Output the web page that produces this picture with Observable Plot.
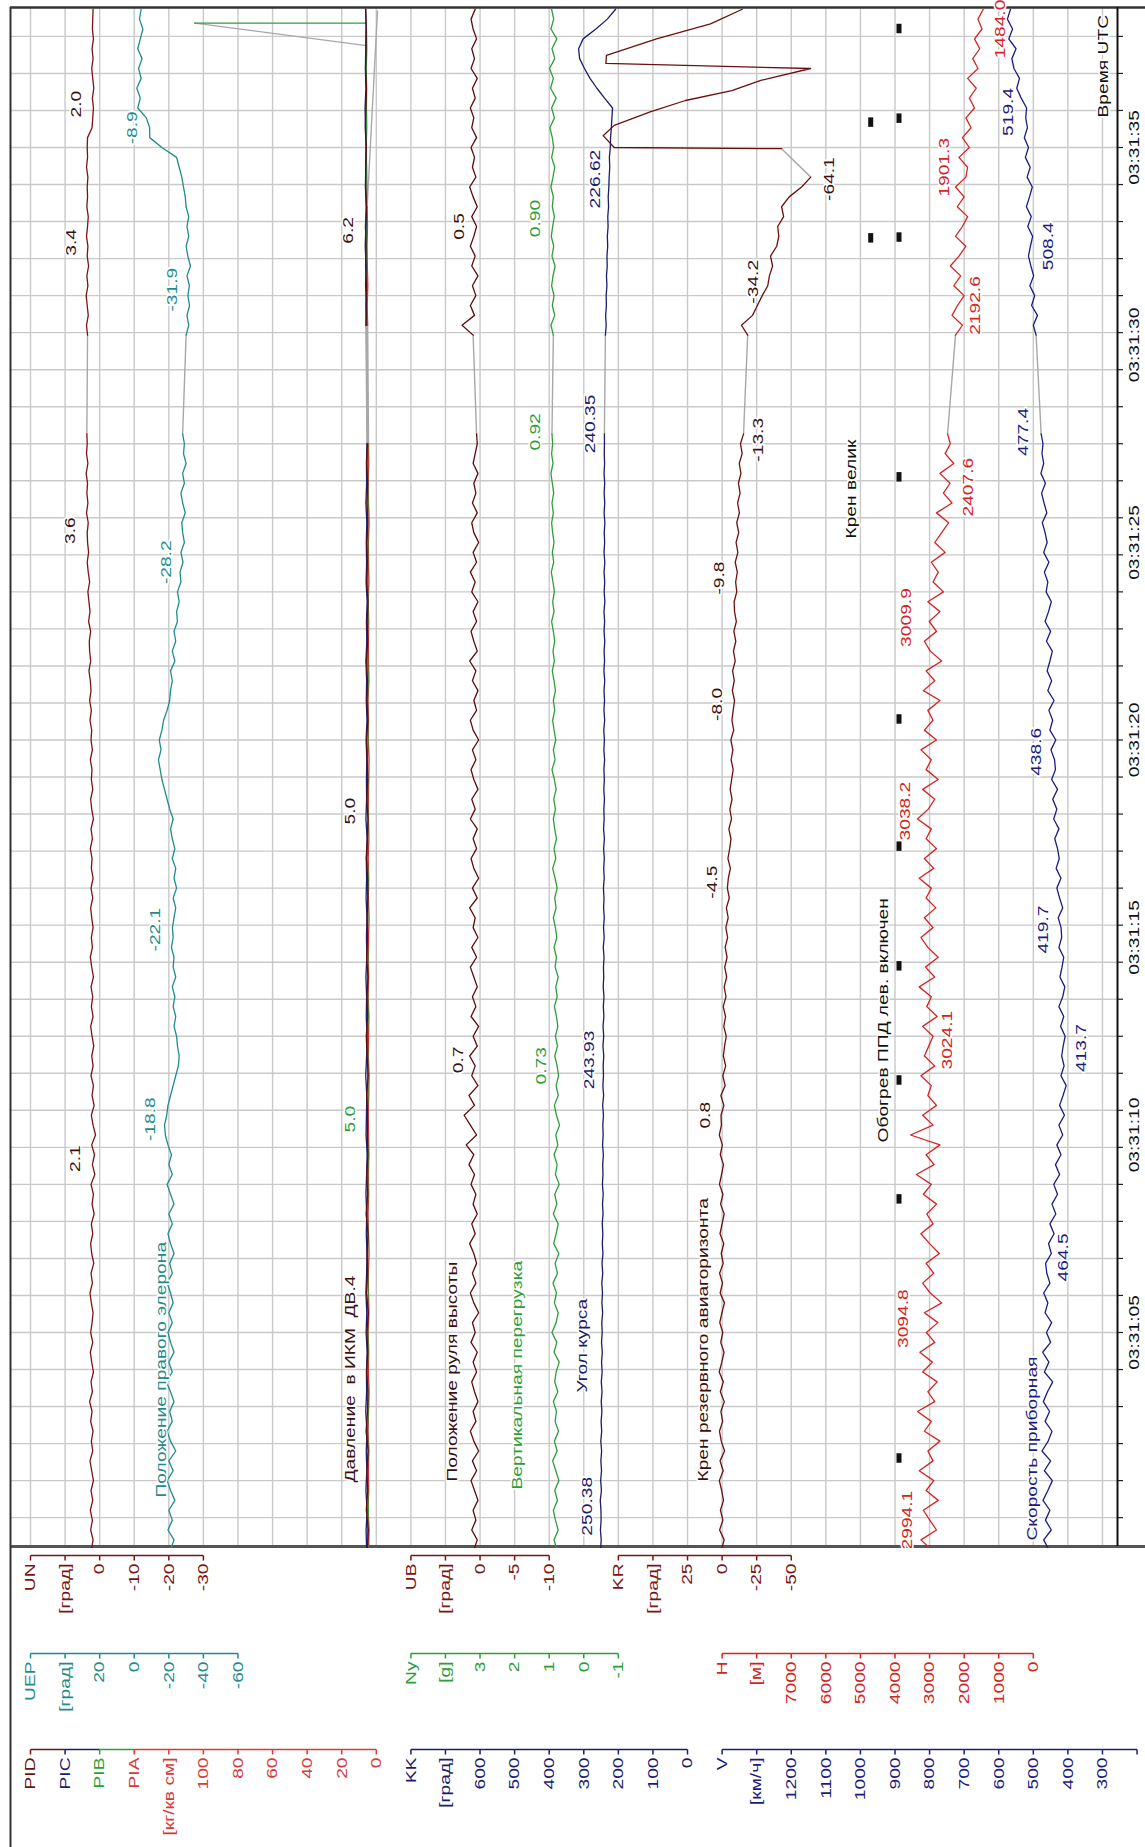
<!DOCTYPE html>
<html><head><meta charset="utf-8">
<script src="https://cdn.jsdelivr.net/npm/d3@7"></script>
<script src="https://cdn.jsdelivr.net/npm/@observablehq/plot@0.6"></script>
<style>body{margin:0;background:#fff;} #chart svg{display:block;}</style>
</head><body><div id="chart"></div>
<script>
// ================= DATA =================
const timeTickSec = [5, 10, 15, 20, 25, 30, 35];
const timeTickText = ["03:31:05","03:31:10","03:31:15","03:31:20","03:31:25","03:31:30","03:31:35"];
const fineStep = 0.25, coarseStep = 0.5;
const segAStart = -0.5, segBStart = 30.25, piAStart = -0.5, piBStart = 30.5;

// UN [град]
const unA = [2.4,1.9,2.6,2.1, 2.7,2.0,2.5,1.8, 2.3,2.8,2.0,2.4, 1.9,2.6,2.2,2.9, 2.1,2.5,1.8,2.3, 2.7,2.0,2.6,2.2,
 1.9,2.4,2.8,2.1, 2.5,1.7,2.3,2.6, 2.0,2.4,1.6,2.2, 1.8,2.5,1.4,2.1, 1.5,2.3,1.2,1.9, 2.4,1.6,2.2,1.8,
 2.5,1.9,2.3,1.7, 2.2,2.6,1.9,2.4, 2.0,2.5,1.8,2.3, 2.7,2.1,2.4,1.9, 2.3,2.6,2.0,2.5, 1.9,2.4,2.2,2.7,
 2.1,2.5,1.8,2.3, 2.6,2.0,2.4,2.2, 2.7,2.1,2.5,2.3, 2.8,2.4,2.9,2.5, 2.7,3.1,2.6,2.9, 3.0,2.6,3.2,2.8,
 3.1,3.4,2.9,3.3, 3.6,3.2,3.5,3.6, 3.3,3.8,3.4,3.7, 3.5,3.9,3.4,3.8, 3.6,3.7];
const unB = [3.5,3.8,3.3,3.6, 3.9,3.4,3.7,3.2, 3.6,3.4,3.8,3.5, 3.3,3.7,3.5,3.6, 3.4,3.8,3.5,3.6,
 3.5,2.2,2.0,1.8, 2.1,1.7,2.0,2.3, 1.9,2.2,1.8,2.1, 2.0,1.9];

// UEP [град]
const uepA = [-21,-23,-19.5,-22, -20,-23.5,-21,-19, -22.5,-20,-24,-21, -19,-22,-20.5,-23, -21,-18.5,-22,-20,
 -23,-21,-19.5,-22, -20,-22.5,-21,-19, -22,-20.5,-23,-21, -19.5,-22,-20,-23, -21,-19,-22,-20,
 -21.5,-19.5,-18,-17.5, -18.8,-19.5,-21,-22.5, -24,-25.5,-26,-25, -24.5,-23,-24,-22.5, -23.5,-22,-24,-22.5,
 -23,-21.5,-22.5,-22.1, -23,-24,-22.5,-24.5, -23,-24,-22,-23.5, -22,-21,-22.5,-20.5, -19,-17.5,-16,-15,
 -14,-15.5,-14.5,-16, -17,-19,-20.5,-21, -22,-21,-23.5,-22, -24,-23,-25,-24.5, -26,-25,-27,-26.5,
 -28.2,-27,-29,-28, -27.5,-29.5,-28,-27, -29,-28,-30,-28.5, -29,-28];
const uepB = [-30,-31.5,-30.5,-32, -31,-31.9,-30.5,-32.5, -31,-30,-31.5,-30.5, -31.5,-30,-29.5,-28.5,
 -27.5,-26,-24.5,-16, -9,-8.9,-7,-2, -3.5,-1.5,-4,-2.5, -4.5,-2,-3.5,-5, -3,-4];

// PID / PIC / PIB / PIA [кг/кв см]
const pidA = [5.2,4.6,5.8,5.0,5.5,4.7,5.9,5.1,4.8,5.6,5.0,5.4,4.6,5.7,5.1,5.3,4.8,5.9,5.0,5.5,4.9,5.2,5.0,5.6,4.7,5.3,5.8,5.0,
 5.4,4.8,5.6,5.1,5.3,4.9,5.0,5.7,5.2,4.8,5.5,5.0,5.3,5.6,4.9,5.4,5.1,5.7,5.0,5.3,4.8,5.6,5.2,5.5,4.9,5.4,5.0,5.6,5.2];
const pidB = [5.8,6.0,5.6,6.2,5.9,6.3,5.7,6.1,6.2,5.8,6.4,6.0,5.7,6.2,6.0,5.9,6.1];
const picA = [5.6,5.9,5.3,6.0,5.5,5.8,5.4,6.1,5.6,5.7,5.3,5.9,5.5,6.0,5.6,5.4,5.8,5.5,6.0,5.6,5.3,5.9,5.7,5.5,6.1,5.6,5.4,5.8,
 5.6,6.0,5.5,5.7,5.4,5.9,5.6,5.8,5.3,6.0,5.6,5.7,5.5,5.9,5.4,5.8,5.6,6.0,5.5,5.7,5.3,5.9,5.6,5.8,5.5,6.0,5.6,5.7,5.4];
const picB = [6.0,5.7,6.2,5.9,6.4,6.0,5.8,6.3,6.1,5.9,6.2,6.5,6.0,6.3,6.1,5.8,6.2];
const pibA = [4.9,5.2,4.6,5.0,5.3,4.8,5.1,4.7,5.0,5.2,4.8,4.9,5.3,4.7,5.0,5.1,4.8,5.2,4.9,5.0,4.7,5.1,5.3,4.8,5.0,4.9,5.2,4.7,
 5.0,5.1,4.8,5.3,4.9,5.0,4.7,5.2,5.0,4.8,5.1,4.9,5.2,4.8,5.0,5.1,4.7,5.0,5.2,4.9,4.8,5.1,5.0,4.9,5.2,4.8,5.0,5.1,4.9];
const pibB = [5.4,5.7,5.3,5.6,5.8,5.5,5.7,5.4,5.6,5.9,5.5,5.7,5.6,5.8,5.5,5.7];
const pibSpikeT = [38.15, 38.15], pibSpikeV = [5.6, 105];
const pibGlitchT = [38.15, 37.58], pibGlitchV = [105, 5.7];
const piaA = [4.5,4.2,4.7,4.4,4.6,4.3,4.8,4.5,4.2,4.6,4.4,4.7,4.3,4.5,4.6,4.2,4.5,4.8,4.4,4.6,4.3,4.5,4.7,4.4,4.2,4.6,4.5,4.3,
 4.7,4.4,4.6,4.5,4.2,4.6,4.4,4.7,4.3,4.5,4.6,4.4,4.2,4.6,4.5,4.8,4.3,4.5,4.6,4.4,4.7,4.3,4.5,4.6,4.2,4.5,4.7,4.4,4.5];
const piaB = [5.0,5.3,4.9,5.2,5.4,5.1,5.3];
const piaTailT = [33.5, 38.45], piaTailV = [5.3, -0.7];

// UB [град]
const ubA = [0.9,0.4,1.2,0.6, 1.0,0.3,0.8,1.3, 0.5,1.1,0.2,0.9, 1.4,0.6,1.0,0.3, 0.8,1.2,0.5,1.0, 0.4,1.3,0.7,1.1,
 0.2,0.9,1.4,0.6, 1.1,0.5,0.9,1.5, 0.7,1.2,0.4,1.0, 0.6,1.3,0.8,1.6, 0.9,2.0,0.5,1.4, 2.3,0.8,1.6,0.3,
 1.2,0.7,1.5,0.4, 1.0,0.2,1.3,0.6, 1.1,0.4,0.9,1.4, 0.5,1.2,0.3,1.0, 0.7,1.5,0.4,1.1, 0.2,0.9,1.3,0.5,
 1.0,0.4,1.4,0.7, 1.2,0.3,0.9,1.3, 0.6,1.1,0.2,1.0, 1.4,0.5,0.9,0.3, 1.1,0.6,1.5,0.4, 0.9,1.3,0.5,1.0,
 0.3,1.2,0.7,1.4, 0.5,1.0,0.2,0.9, 1.2,0.4,1.1,0.6, 0.9,0.3,1.0,0.7, 0.4,0.5];
const ubB = [1.0,2.6,0.8,1.4, 0.6,1.1,0.3,1.2, 0.7,1.4,0.9,0.5, 1.2,0.4,1.0,1.5, 0.6,1.1,0.8,1.3,
 0.5,1.2,0.9,1.4, 0.7,1.1,0.4,1.3, 0.8,1.2,0.5,1.0, 1.3,0.7];

// Ny [g]
const nyA = [0.78,0.86,0.74,0.82, 0.88,0.76,0.84,0.72, 0.81,0.90,0.77,0.85, 0.73,0.83,0.79,0.88, 0.75,0.84,0.80,0.71,
 0.86,0.78,0.92,0.80, 0.74,0.85,0.79,0.89, 0.76,0.83,0.72,0.87, 0.80,0.74,0.88,0.78, 0.84,0.71,0.82,0.77,
 0.86,0.75,0.81,0.70, 0.79,0.85,0.74,0.80, 0.73,0.77,0.84,0.76, 0.82,0.75,0.79,0.85, 0.77,0.81,0.74,0.83,
 0.79,0.86,0.78,0.82, 0.88,0.80,0.84,0.77, 0.83,0.90,0.81,0.86, 0.79,0.84,0.88,0.82, 0.87,0.80,0.85,0.92,
 0.83,0.88,0.81,0.86, 0.90,0.84,0.88,0.82, 0.86,0.91,0.85,0.89, 0.84,0.88,0.93,0.86, 0.90,0.85,0.89,0.94,
 0.87,0.91,0.86,0.90, 0.93,0.88,0.92,0.87, 0.91,0.95,0.89,0.93, 0.90,0.92];
const nyB = [0.88,0.95,0.84,0.91, 0.86,0.93,0.89,0.83, 0.92,0.87,0.94,0.90, 0.85,0.91,0.88,0.95, 0.89,0.84,0.93,0.87,
 0.91,0.98,0.85,0.93, 0.80,0.96,0.88,0.99, 0.84,0.92,0.78,0.95, 0.87,0.93];

// KK [град]
const kkA = [251.5,249.6,251.8,249.9, 250.4,252.3,249.0,251.2, 248.7,250.6,248.4,250.8, 248.2,249.9,247.6,249.5,
 247.2,249.3,246.9,248.6, 246.4,248.7,246.8,247.9, 245.5,247.6,245.9,247.8, 245.2,247.3,244.6,246.4,
 244.9,246.6,244.3,245.8, 243.8,246.1,244.5,245.2, 243.3,245.7,243.9,245.0, 243.1,245.4,242.6,244.8,
 243.0,243.93,242.2,244.6, 242.4,244.3,241.9,243.5, 241.6,243.8,242.3,243.1, 241.4,243.6,241.0,242.9,
 240.8,242.7,241.5,243.2, 240.9,242.4,240.6,242.6, 240.4,242.8,241.1,242.0, 240.2,242.1,240.5,241.8,
 239.8,241.9,240.3,242.2, 239.6,241.7,240.0,241.5, 239.4,241.8,239.9,241.2, 239.3,241.4,239.7,241.6,
 239.1,241.0,239.5,241.3, 239.2,241.5,239.6,240.9, 239.0,241.2,239.4,241.1, 239.5,241.3,239.8,240.8, 240.2,240.35];
const kkB = [237.5,235.2,236.8,234.6, 235.3,233.1,234.4,232.2, 233.0,230.8,231.9,229.7, 230.6,228.3,229.4,227.5,
 226.62,224.9,226.0,223.4, 222.5,220.3,218.6,216.8, 240.0,262.0,282.0,298.0, 312.0,315.0,302.0,265.0, 232.0,208.0];

// KR [град]
const krA = [0.5,-1.5,1.8,-0.6, 1.2,-1.0,0.3,2.0, -0.8,1.5,-1.8,0.6, 1.9,-0.4,0.9,-1.6, 1.3,-0.9,2.1,0.2,
 -1.4,1.0,-0.5,1.7, 0.1,-1.7,1.4,-0.3, 1.8,-0.8,0.6,-1.2, 1.5,0.0,-1.5,1.1, -0.6,1.9,0.4,-1.0,
 1.3,-0.2,2.0,0.5, 0.8,-1.3,0.9,-2.2, -0.5,-2.6,-0.9,-1.8, -3.0,-1.2,-2.5,-0.8, -2.8,-1.5,-3.3,-1.9,
 -3.6,-2.2,-4.0,-2.7, -4.4,-3.1,-5.2,-3.8, -4.5,-6.0,-4.2,-5.5, -6.4,-4.9,-6.8,-5.6, -7.2,-5.8,-6.9,-8.0,
 -6.5,-7.8,-6.3,-8.4, -7.1,-8.0,-9.0,-7.4, -8.8,-7.6,-9.5,-8.2, -9.9,-8.5,-10.3,-9.0, -8.7,-10.6,-9.8,-11.0,
 -9.5,-11.4,-10.1,-12.0, -10.6,-12.5,-11.2,-13.0, -11.8,-13.6,-12.4,-14.5, -13.3,-15.5];
const krB = [-18.5,-14.0,-22.0,-25.5,-29.0,-33.0,-34.2,-36.5,-35.0,-39.5,-41.0,-40.2,-44.5,-43.0,-48.5,-57.5,-64.1];
const krTopT = [34.97,35.0,35.3,35.56,35.9,36.19,36.44,36.7,37.0,37.13,37.33,37.75,38.13,38.5];
const krTopV = [-43,78,86,78,52,26.5,-7,-28,-64,84,83.6,47.4,8.4,-14.6];

// H [м]
const hA = [2950,3250,2800,2994, 3180,2750,3100,2880, 3300,2900,3050,2700, 3150,2950,3350,2850, 3050,2780,3200,2920,
 3280,2850,3094,2760, 3150,2650,2980,3200, 2880,3100,2720,3000, 3250,2900,3080,2800, 3180,2950,3380,2870,
 3100,2700,3550,2900, 3200,2800,3050,2950, 3250,2850,3150,3024, 2900,3200,2780,3080, 2950,3300,2850,3120,
 2750,3050,3250,2900, 3150,2820,3100,2950, 3300,2880,3150,2800, 3100,2950,3350,3038, 2850,3200,2750,3100,
 2950,3250,2800,3150, 2900,3050,2700,3180, 2850,3100,2650,2980, 3150,2800,3010,2700, 3050,2600,2900,2750,
 2950,2550,2850,2650, 2450,2800,2350,2600, 2408,2700,2300,2550, 2400,2480];
const hB = [2250,2050,2350,2193, 2000,2300,2100,2400, 2150,1950,2250,2050, 1900,2200,2000,2250, 1950,1901,2150,1850,
 2050,1800,1950,1700, 1850,1650,1900,1600, 1750,1550,1700,1484, 1600,1450];

// V [км/ч]
const vA = [455,470,448,465, 452,472,458,445, 468,450,475,457, 446,466,453,471, 459,444,468,455, 473,450,462,447,
 466,458,470,452, 461,464.5,448,456, 440,452,435,446, 430,441,424,436, 420,432,415,426, 410,424,414,405,
 420,411,418,413.7, 408,421,412,426, 415,409,423,417, 412,426,418,419.7, 428,415,424,432, 420,434,425,430,
 438,426,441,432, 444,430,447,436, 438.6,449,435,452, 444,455,440,458, 447,460,452,445, 462,450,466,456,
 448,463,458,468, 455,470,460,466, 474,461,469,476, 465,478,470,475, 472,477.4];
const vB = [492,500,488,505, 496,510,499,507, 514,508.4,502,516, 506,520,511,503, 518,509,523,514,
 526,517,522,519.4, 535,548,540,556, 562,550,571,560, 575,566];

// discrete events (black markers), seconds after 03:31:00
const eventsCol1 = [35.63, 32.7];
const eventsCol2 = [38.0, 35.73, 32.72, 26.65, 20.52, 17.3, 14.27, 11.38, 8.37, 1.81];

// value annotations [sec, text, side]
const unNotes  = [[9.4,"2.1","L"],[25.3,"3.6","L"],[32.6,"3.4","L"],[36.1,"2.0","L"]];
const uepNotes = [[10.4,"-18.8","L"],[15.2,"-22.1","L"],[24.5,"-28.2","L"],[31.4,"-31.9","L"],[35.5,"-8.9","L"]];
const pibNotes = [[10.4,"5.0","L"]];
const pidNotes = [[18.2,"5.0","L"],[32.9,"6.2","L"]];
const ubNotes  = [[11.9,"0.7","L"],[33.0,"0.5","L"]];
const nyNotes  = [[11.75,"0.73","L"],[27.8,"0.92","L"],[33.2,"0.90","L"]];
const kkNotes  = [[0.6,"250.38","L"],[11.9,"243.93","L"],[28.0,"240.35","L"],[34.2,"226.62","L"]];
const krNotes  = [[10.5,"0.8","L"],[16.4,"-4.5","L"],[20.9,"-8.0","L"],[24.1,"-9.8","L"],[27.6,"-13.3","R"],[31.6,"-34.2","L"],[34.2,"-64.1","R"]];
const hNotes   = [[0.25,"2994.1","L"],[5.35,"3094.8","L"],[12.4,"3024.1","R"],[18.2,"3038.2","L"],[23.1,"3009.9","L"],[26.4,"2407.6","R"],[31.0,"2192.6","R"],[34.5,"1901.3","L"],[38.0,"1484.0","R"]];
const vNotes   = [[6.9,"464.5","R"],[12.2,"413.7","R"],[15.2,"419.7","L"],[19.7,"438.6","L"],[27.8,"477.4","L"],[32.5,"508.4","R"],[35.9,"519.4","L"]];

// names
const seriesNames = ["Положение правого элерона","Давление\u00a0 в ИКМ\u00a0 ДВ.4","Положение руля высоты","Вертикальная перегрузка",
 "Угол курса","Крен резервного авиагоризонта","Обогрев ППД лев. включен","Крен велик","Скорость приборная","Время UTC"];

// legend tick labels
const legUN  = ["UN","[град]","0","-10","-20","-30"];
const legUB  = ["UB","[град]","0","-5","-10"];
const legKR  = ["KR","[град]","25","0","-25","-50"];
const legUEP = ["UEP","[град]","20","0","-20","-40","-60"];
const legNy  = ["Ny","[g]","3","2","1","0","-1"];
const legH   = ["H","[м]","7000","6000","5000","4000","3000","2000","1000","0"];
const legPI  = ["PID","PIC","PIB","PIA","[кг/кв см]","100","80","60","40","20","0"];
const legKK  = ["KK","[град]","600","500","400","300","200","100","0"];
const legV   = ["V","[км/ч]","1200","1100","1000","900","800","700","600","500","400","300",""];

// ================= LAYOUT / STYLE =================
const W = 1145, H1 = 1548, H2 = 299;
const gx = k => 30 + k * 34.58;              // grid column positions
const timePix = d3.scaleLinear([5, 35], [1332, 147]);
const tAt = p => timePix.invert(p);
const FONT = "Arial, 'Liberation Sans', sans-serif";
const STRETCH = 1.28;

const C = {
  brown: "#7a1414", dark: "#3c1010", teal: "#1f8c8c", green: "#2e9e3a", red: "#d42424",
  navy: "#1c1c6e", navyV: "#1c1c80", black: "#111", grid: "#c9c9c9", gap: "#a8a8a8"
};
const sc = {
  UN:  d3.scaleLinear([0, -30], [gx(2), gx(5)]),
  UEP: d3.scaleLinear([20, -60], [gx(2), gx(6)]),
  PI:  d3.scaleLinear([100, 0], [gx(5), gx(10)]),
  UB:  d3.scaleLinear([0, -10], [gx(13), gx(15)]),
  NY:  d3.scaleLinear([3, -1], [gx(13), gx(17)]),
  KK:  d3.scaleLinear([600, 0], [gx(13), gx(19)]),
  KR:  d3.scaleLinear([25, -50], [gx(19), gx(22)]),
  H:   d3.scaleLinear([7000, 0], [gx(22), gx(29)]),
  V:   d3.scaleLinear([1200, 300], [gx(22), gx(31)])
};

const reg = (vals, t0, step) => ({t: vals.map((_, i) => t0 + i * step), v: vals});
const pair = (t, v) => ({t, v});
const traces = [], gaps = [], extraGray = [];
function addSeries(name, color, s, segs) {
  segs.forEach((g, j) => {
    g.t.forEach((t, i) => traces.push({t, x: s(g.v[i]), id: name + j, color}));
    if (j > 0) {
      const p = segs[j - 1], n = p.t.length - 1;
      gaps.push({t: p.t[n], x: s(p.v[n]), id: name + "g" + j}, {t: g.t[0], x: s(g.v[0]), id: name + "g" + j});
    }
  });
}
function addGray(name, s, g) { g.t.forEach((t, i) => extraGray.push({t, x: s(g.v[i]), id: name})); }

addSeries("PIA", "#c83030", sc.PI, [reg(piaA, piAStart, coarseStep), reg(piaB, piBStart, coarseStep)]);
addGray("PIAtail", sc.PI, pair(piaTailT, piaTailV));
addSeries("PIB", C.green, sc.PI, [reg(pibA, piAStart, coarseStep), reg(pibB, piBStart, coarseStep)]);
addSeries("PIBs", C.green, sc.PI, [pair(pibSpikeT, pibSpikeV)]);
addGray("PIBglitch", sc.PI, pair(pibGlitchT, pibGlitchV));
addSeries("PIC", C.navy, sc.PI, [reg(picA, piAStart, coarseStep), reg(picB, piBStart, coarseStep)]);
addSeries("PID", "#5a1010", sc.PI, [reg(pidA, piAStart, coarseStep), reg(pidB, piBStart, coarseStep)]);
addSeries("UN", C.brown, sc.UN, [reg(unA, segAStart, fineStep), reg(unB, segBStart, fineStep)]);
addSeries("UEP", C.teal, sc.UEP, [reg(uepA, segAStart, fineStep), reg(uepB, segBStart, fineStep)]);
addSeries("UB", "#5c0c0c", sc.UB, [reg(ubA, segAStart, fineStep), reg(ubB, segBStart, fineStep)]);
addSeries("NY", C.green, sc.NY, [reg(nyA, segAStart, fineStep), reg(nyB, segBStart, fineStep)]);
addSeries("KK", C.navy, sc.KK, [reg(kkA, segAStart, fineStep), reg(kkB, segBStart, fineStep)]);
addSeries("KR", "#6b1010", sc.KR, [reg(krA, segAStart, fineStep), reg(krB, segBStart, fineStep), pair(krTopT, krTopV)]);
addSeries("H", C.red, sc.H, [reg(hA, segAStart, fineStep), reg(hB, segBStart, fineStep)]);
addSeries("V", C.navyV, sc.V, [reg(vA, segAStart, fineStep), reg(vB, segBStart, fineStep)]);

const notes = [];
function addNotes(arr, s, color, dl = -17, dr = 17) {
  arr.forEach(([t, txt, side]) => notes.push({t, x: s(+txt) + (side === "L" ? dl : dr), txt, color}));
}
addNotes(unNotes, sc.UN, C.dark);
addNotes(uepNotes, sc.UEP, C.teal);
addNotes(pibNotes, sc.PI, C.green);
addNotes(pidNotes, sc.PI, C.dark);
addNotes(ubNotes, sc.UB, C.dark);
addNotes(nyNotes, sc.NY, C.green);
addNotes(kkNotes, sc.KK, C.navy, -14, 14);
addNotes(krNotes, sc.KR, C.dark, -16, 18);
addNotes(hNotes, sc.H, C.red, -23, 18);
addNotes(vNotes, sc.V, C.navyV, -18, 18);

// name label placement (x px, bottom y px) and colour
const nameLayout = [
  [160.7, 1497, C.teal], [350, 1482, C.dark], [451.6, 1481, C.dark], [516.6, 1489, C.green],
  [582, 1392, C.navy], [703, 1481, C.dark], [883, 1142, C.black], [851, 538, C.black],
  [1032, 1540, C.navyV], [1103, 117, C.black]
];
const names = seriesNames.map((s, i) => ({s, x: nameLayout[i][0], t: tAt(nameLayout[i][1]), color: nameLayout[i][2]}));

const tTop = tAt(7), tBot = tAt(1546), tSvgBot = tAt(H1);
const hGrid = d3.range(-5, 36).map(k => 5 + k * 30 / 32);
const vGrid = d3.range(0, 32).map(gx);
const ev = [...eventsCol1.map(t => ({t, x: 870.7})), ...eventsCol2.map(t => ({t, x: 899}))];

const main = Plot.plot({
  width: W, height: H1, margin: 0,
  style: {fontFamily: FONT, fontSize: "15px", background: "#fff"},
  x: {type: "identity", axis: null},
  y: {domain: [5, 35], range: [1332, 147], axis: null},
  color: {type: "identity"},
  marks: [
    Plot.ruleX(vGrid, {x: d => d, y1: tBot, y2: tTop, stroke: C.grid, strokeWidth: 1.4}),
    Plot.ruleY(hGrid, {y: d => d, x1: 10, x2: 1117, stroke: C.grid, strokeWidth: 1.4}),
    Plot.ruleY(hGrid, {y: d => d, x1: 1117, x2: 1123, stroke: "#222", strokeWidth: 1.2}),
    Plot.ruleY([tTop], {x1: 10, x2: W, stroke: "#333", strokeWidth: 2.5}),
    Plot.ruleY([tBot], {x1: 10, x2: W, stroke: "#555", strokeWidth: 3}),
    Plot.ruleX([10], {y1: tSvgBot, y2: tTop, stroke: "#333", strokeWidth: 2}),
    Plot.ruleX([1117], {y1: tBot, y2: tTop, stroke: "#111", strokeWidth: 2}),
    Plot.line(gaps, {x: "x", y: "t", z: "id", stroke: C.gap, strokeWidth: 1.4}),
    Plot.line(extraGray, {x: "x", y: "t", z: "id", stroke: C.gap, strokeWidth: 1.4}),
    Plot.line(traces, {x: "x", y: "t", z: "id", stroke: "color", strokeWidth: 1.3}),
    Plot.rect(ev, {x1: d => d.x - 2.5, x2: d => d.x + 2.5, y1: d => d.t - 0.12, y2: d => d.t + 0.12, fill: "#111"}),
    Plot.text(notes, {x: "x", y: "t", text: "txt", fill: "color", rotate: -90, fontSize: 15, stroke: "#fff", strokeWidth: 3}),
    Plot.text(names, {x: "x", y: "t", text: "s", fill: "color", rotate: -90, textAnchor: "start", fontSize: 15, stroke: "#fff", strokeWidth: 3}),
    Plot.text(timeTickSec, {x: 1134, y: d => d, text: (d, i) => timeTickText[i], fill: "#111", rotate: -90, fontSize: 15})
  ]
});

// legend (scale groups under the chart)
const rowsY = [7, 105, 201];
const legendGroups = [
  {row: 0, k0: 0, labels: legUN, colors: C.brown},
  {row: 0, k0: 11, labels: legUB, colors: C.brown},
  {row: 0, k0: 17, labels: legKR, colors: C.brown},
  {row: 1, k0: 0, labels: legUEP, colors: C.teal},
  {row: 1, k0: 11, labels: legNy, colors: C.green},
  {row: 1, k0: 20, labels: legH, colors: C.red},
  {row: 2, k0: 0, labels: legPI, colors: ["#6b1414", C.navy, C.green, "#d83a3a", "#d83a3a", "#d83a3a", "#d83a3a", "#d83a3a", "#d83a3a", "#d83a3a", "#d83a3a"]},
  {row: 2, k0: 11, labels: legKK, colors: C.navy},
  {row: 2, k0: 20, labels: legV, colors: C.navyV}
];
const legLines = [], legTexts = [];
legendGroups.forEach(g => {
  const y = rowsY[g.row];
  const col = i => Array.isArray(g.colors) ? g.colors[i] : g.colors;
  g.labels.forEach((lab, i) => {
    const x = gx(g.k0 + i);
    legLines.push({x1: x, x2: x, y1: y, y2: y + 5, color: col(i)});
    if (i < g.labels.length - 1) legLines.push({x1: x, x2: gx(g.k0 + i + 1), y1: y, y2: y, color: col(i)});
    if (lab) legTexts.push({x, y: y + 8, lab, color: col(i)});
  });
});
const legend = Plot.plot({
  width: W, height: H2, margin: 0,
  style: {fontFamily: FONT, fontSize: "15px", background: "#fff"},
  x: {type: "identity", axis: null}, y: {type: "identity", axis: null}, color: {type: "identity"},
  marks: [
    Plot.ruleX([10], {y1: 0, y2: H2, stroke: "#333", strokeWidth: 2}),
    Plot.link(legLines, {x1: "x1", x2: "x2", y1: "y1", y2: "y2", stroke: "color", strokeWidth: 1.5}),
    Plot.text(legTexts, {x: "x", y: "y", text: "lab", fill: "color", rotate: -90, textAnchor: "end", fontSize: 15})
  ]
});

function stretch(svg) {
  svg.querySelectorAll("text, g").forEach(el => {
    const tr = el.getAttribute("transform");
    if (tr && /rotate\(-90\)/.test(tr)) el.setAttribute("transform", tr + ` scale(${STRETCH},1)`);
  });
}
stretch(main); stretch(legend);
const root = document.getElementById("chart");
root.append(main, legend);
</script></body></html>
